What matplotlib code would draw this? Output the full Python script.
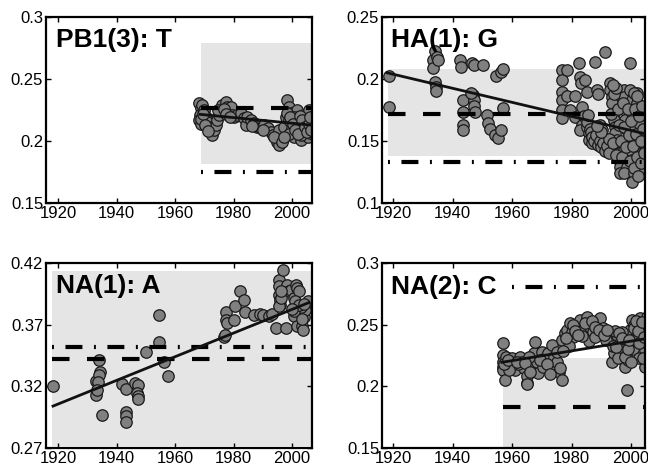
import matplotlib
matplotlib.use("Agg")
import matplotlib.pyplot as plt

# four panels, one per position:nucleotide, frequency through time

# ---- PB1(3): T ----
pb1_years = [1968.2, 1968.7, 1968.6, 1968.2, 1968.7, 1969.3, 1969.9, 1970.5, 1971.0, 1971.6,
             1972.2, 1972.7, 1973.3, 1973.9, 1974.4, 1975.0, 1975.6, 1976.2, 1977.3, 1977.9,
             1978.4, 1979.0, 1979.6, 1980.2, 1981.3, 1982.4, 1983.6, 1984.2, 1984.7, 1985.9,
             1987.0, 1988.1, 1989.3, 1990.4, 1991.6, 1992.7, 1993.3, 1994.4, 1995.0, 1995.6,
             1996.1, 1996.7, 1995.6, 1997.3, 1997.9, 1998.4, 1999.0, 1999.6, 1999.6, 2000.1,
             2000.7, 2001.3, 2001.8, 2001.8, 2002.4, 2003.0, 2003.6, 2003.6, 2004.1, 2004.7,
             2005.3, 2005.3, 2005.8, 2006.2, 2005.8, 1998.4, 1999.0, 2000.7, 2002.4, 2003.0,
             2004.1, 1997.0, 1998.9, 2002.9, 2004.9,
             1968.9, 1969.5, 1970.2, 1971.3, 1974.7, 1976.6, 1977.5, 1978.8, 1986.4, 1990.0,
             1993.9, 1996.4, 1997.2, 1999.3, 2000.4, 2001.0, 2002.0, 2002.7, 2003.3, 2004.4,
             2005.0, 2005.6, 2006.0, 2006.3]
pb1_values = [0.2303, 0.2263, 0.2210, 0.2169, 0.2136, 0.2290, 0.2250, 0.2196, 0.2155, 0.2115,
              0.2075, 0.2048, 0.2088, 0.2128, 0.2169, 0.2210, 0.2250, 0.2290, 0.2317, 0.2276,
              0.2236, 0.2276, 0.2210, 0.2196, 0.2210, 0.2223, 0.2182, 0.2128, 0.2196, 0.2169,
              0.2142, 0.2115, 0.2102, 0.2128, 0.2102, 0.2075, 0.2048, 0.2021, 0.1994, 0.1967,
              0.2007, 0.2061, 0.2088, 0.2115, 0.2196, 0.2330, 0.2276, 0.2223, 0.2155, 0.2102,
              0.2034, 0.2075, 0.2250, 0.2169, 0.2115, 0.2007, 0.2061, 0.2210, 0.2142, 0.2088,
              0.2034, 0.2182, 0.2115, 0.2061, 0.2250, 0.2223, 0.2169, 0.2196, 0.2196, 0.2102,
              0.2088, 0.2020, 0.2060, 0.2050, 0.2150,
              0.2180, 0.2215, 0.2130, 0.2080, 0.2250, 0.2260, 0.2220, 0.2190, 0.2125, 0.2090,
              0.2030, 0.1990, 0.2030, 0.2190, 0.2140, 0.2090, 0.2060, 0.2200, 0.2170, 0.2110,
              0.2075, 0.2140, 0.2190, 0.2085]
pb1_fit = ([1968.5, 2006.3], [0.2215, 0.2129])
pb1_band = (1968.7, 2006.4, 0.1815, 0.279)
pb1_dash, pb1_dashdot = 0.2266, 0.175

# ---- HA(1): G ----
ha_years = [1918.4, 1918.4,
            1933.2, 1933.4, 1934.0, 1934.6, 1935.2, 1934.0, 1934.4, 1934.4,
            1942.3, 1942.9, 1943.3, 1943.3, 1943.3, 1943.3,
            1946.6, 1947.3, 1946.8, 1947.3, 1947.0, 1947.6, 1946.3,
            1950.2, 1951.4, 1951.9, 1952.6, 1954.2, 1955.3, 1956.2,
            1954.4, 1956.2, 1957.0, 1957.0,
            1976.7, 1976.7, 1976.7, 1976.7, 1976.7, 1976.7, 1978.4, 1978.4, 1979.5,
            1981.2, 1981.2, 1982.4, 1982.9, 1983.0, 1983.4, 1983.4, 1982.9,
            1984.5, 1985.1, 1985.1, 1985.7, 1985.7, 1986.8, 1986.8, 1987.9,
            1988.5, 1989.0, 1989.6, 1990.2, 1990.7, 1991.3, 1991.1,
            1993.0, 1993.0, 1993.6, 1993.6, 1994.1, 1994.1, 1994.7, 1994.7, 1995.2, 1995.2,
            1995.8, 1995.8, 1996.3, 1996.3,
            1997.5, 1997.5, 1998.0, 1998.0, 1998.6, 1998.6, 1997.5, 1998.0, 1998.6, 1997.5,
            1999.7, 1999.7, 2000.2, 2000.2, 2000.8, 2000.8, 1999.7, 2000.2, 2000.8, 2000.2,
            2001.9, 2001.9, 2002.5, 2002.5, 2003.0, 2003.0, 2003.6, 2003.6, 2004.2, 2004.8,
            1984.0, 1985.0, 1986.0, 1986.5, 1987.0, 1987.6, 1988.2, 1988.8, 1989.4, 1990.0,
            1990.6, 1991.2, 1991.8, 1992.4, 1992.4, 1989.8, 1988.4, 1985.5,
            1993.3, 1993.9, 1994.4, 1994.9, 1995.5, 1996.0, 1996.6, 1996.9, 1997.2, 1997.7,
            1998.3, 1998.8, 1999.2, 1999.5, 2000.0, 2000.5, 2001.0, 2001.3, 2001.6, 2002.0,
            2002.2, 2002.7, 2003.2, 2003.4, 2003.8, 2004.1, 2004.4, 2001.0, 2002.0, 1995.0,
            1994.0]
ha_values = [0.2024, 0.1771,
             0.2153, 0.2086, 0.2222, 0.2180, 0.2153, 0.1978, 0.1938, 0.1905,
             0.2153, 0.2100, 0.1830, 0.1736, 0.1630, 0.1585,
             0.2126, 0.2112, 0.1870, 0.1830, 0.1780, 0.1736, 0.1890,
             0.2112, 0.1710, 0.1642, 0.1595, 0.1548, 0.1521, 0.1589,
             0.2024, 0.2058, 0.2080, 0.1764,
             0.2072, 0.1992, 0.1897, 0.1830, 0.1750, 0.1682, 0.2072, 0.1860, 0.1750,
             0.1860, 0.1695, 0.2126, 0.2018, 0.1965, 0.1776, 0.1628, 0.1588,
             0.1992, 0.1897, 0.1615, 0.1561, 0.1507, 0.1534, 0.1480, 0.2140,
             0.1910, 0.1880, 0.1628, 0.1588, 0.1534, 0.1494, 0.2220,
             0.1965, 0.1910, 0.1857, 0.1803, 0.1723, 0.1669, 0.1615, 0.1561, 0.1507, 0.1454,
             0.1400, 0.1346, 0.1292, 0.1238,
             0.1910, 0.1857, 0.1750, 0.1669, 0.1588, 0.1507, 0.1427, 0.1373, 0.1292, 0.1238,
             0.2126, 0.1910, 0.1830, 0.1723, 0.1615, 0.1507, 0.1427, 0.1346, 0.1238, 0.1170,
             0.1884, 0.1803, 0.1723, 0.1642, 0.1561, 0.1480, 0.1400, 0.1319, 0.1265, 0.1467,
             0.1700, 0.1650, 0.1600, 0.1570, 0.1530, 0.1500, 0.1550, 0.1470, 0.1500, 0.1450,
             0.1480, 0.1420, 0.1460, 0.1400, 0.1520, 0.1570, 0.1620, 0.1710,
             0.1720, 0.1480, 0.1880, 0.1390, 0.1760, 0.1630, 0.1500, 0.1370, 0.1810, 0.1610,
             0.1450, 0.1760, 0.1550, 0.1340, 0.1660, 0.1460, 0.1280, 0.1760, 0.1560, 0.1370,
             0.1220, 0.1700, 0.1500, 0.1320, 0.1780, 0.1600, 0.1400, 0.1890, 0.1860, 0.1930,
             0.1950]
ha_fit = ([1917.9, 2004.4], [0.205, 0.156])
ha_band = (1918.2, 2004.6, 0.138, 0.208)
ha_dash, ha_dashdot = 0.172, 0.133

# ---- NA(1): A ----
na1_years = [1918.2, 1933.1, 1933.1, 1934.0, 1934.2, 1934.0, 1933.6, 1933.3, 1935.2,
             1941.7, 1943.2, 1943.2, 1943.2, 1943.2,
             1946.3, 1947.4, 1947.1, 1947.2, 1947.2,
             1950.0, 1954.5, 1954.5, 1956.3, 1957.5,
             1976.6, 1976.9, 1977.5, 1977.5, 1977.8,
             1980.0, 1980.6, 1982.3, 1983.4, 1984.0, 1986.9, 1989.0, 1990.0, 1992.0, 1993.0,
             1994.4, 1997.8,
             1995.4, 1996.9, 1995.4, 1995.4, 1995.7, 1995.7, 1995.4,
             1998.4, 1998.9, 1999.5, 2000.6, 2001.3, 2001.8, 2002.4, 2001.1, 2000.5, 2001.6,
             2003.3, 2003.6, 2004.0, 2004.4, 2005.3, 2002.9, 2000.6, 2002.2, 2003.5, 2004.2,
             1999.8, 1996.1, 1996.1]
na1_values = [0.320, 0.324, 0.313, 0.341, 0.332, 0.329, 0.3237, 0.317, 0.297,
              0.322, 0.318, 0.299, 0.296, 0.291,
              0.323, 0.321, 0.315, 0.312, 0.310,
              0.348, 0.3775, 0.356, 0.340, 0.328,
              0.3597, 0.362, 0.380, 0.374, 0.371,
              0.374, 0.385, 0.397, 0.390, 0.380, 0.378, 0.379, 0.378, 0.377, 0.379,
              0.367, 0.367,
              0.4065, 0.414, 0.401, 0.394, 0.390, 0.386, 0.385,
              0.402, 0.397, 0.398, 0.392, 0.402, 0.400, 0.397, 0.389, 0.377, 0.369,
              0.369, 0.3657, 0.376, 0.382, 0.3895, 0.384, 0.381, 0.386, 0.375, 0.387,
              0.383, 0.392, 0.397]
na1_fit = ([1918.3, 2005.8], [0.304, 0.388])
na1_band = (1918.0, 2006.4, 0.272, 0.4135)
na1_dash, na1_dashdot = 0.3424, 0.352

# ---- NA(2): C ----
na2_years = [1956.8, 1956.8, 1956.8, 1956.9, 1957.0, 1957.6, 1957.8, 1958.2,
             1959.9, 1961.0, 1962.7, 1963.2, 1963.8, 1964.9, 1964.9, 1962.0, 1965.1,
             1966.6, 1967.2, 1967.7, 1968.3, 1968.8,
             1969.9, 1971.1, 1972.2, 1973.3, 1973.9, 1974.4, 1975.0, 1975.6, 1976.1, 1976.7,
             1976.7, 1977.8, 1978.4, 1979.5, 1980.1, 1980.6,
             1981.7, 1982.9, 1984.0, 1985.1, 1986.2, 1987.3, 1988.5, 1989.6, 1990.1, 1990.7,
             1992.4, 1993.0, 1993.5, 1994.1, 1995.2, 1996.3, 1997.4, 1998.0, 1998.6, 1999.1,
             1999.7, 2000.2, 2000.8, 2001.9, 2003.0, 2003.6, 2004.1, 2004.7, 2005.3, 2004.7,
             1985.7, 1988.0, 1991.5, 1996.8, 1998.3, 2000.5, 2002.5, 2001.4, 2003.3, 1995.7,
             1994.6, 1983.4, 1979.0, 1970.5, 1965.5, 1960.5, 1958.8,
             1957.3, 1958.5, 1961.5, 1964.3, 1966.0, 1969.3, 1971.7, 1972.8, 1974.9, 1977.2,
             1978.0, 1980.3, 1981.1, 1982.2, 1984.6, 1986.8, 1987.8, 1989.1, 1991.0, 1992.0,
             1993.8, 1995.0, 1996.0, 1997.0, 1997.8, 1998.9, 1999.4, 2000.0, 2001.0, 2001.7,
             2002.2, 2002.8, 2003.8, 2004.3, 2004.0]
na2_values = [0.2354, 0.2255, 0.2200, 0.2160, 0.2133, 0.2050, 0.2241, 0.2187,
              0.2228, 0.2133, 0.2240, 0.2200, 0.2145, 0.2025, 0.2080, 0.2180, 0.2016,
              0.2170, 0.2268, 0.2360, 0.2200, 0.2106,
              0.2280, 0.2228, 0.2268, 0.2335, 0.2241, 0.2160, 0.2200, 0.2120, 0.2147, 0.2052,
              0.2376, 0.2430, 0.2457, 0.2510, 0.2444, 0.2403,
              0.2498, 0.2538, 0.2457, 0.2565, 0.2484, 0.2444, 0.2511, 0.2552, 0.2430, 0.2470,
              0.2430, 0.2376, 0.2200, 0.2268, 0.2417, 0.2349, 0.2295, 0.2160, 0.1971, 0.2214,
              0.2457, 0.2538, 0.2498, 0.2430, 0.2552, 0.2362, 0.2484, 0.2295, 0.2565, 0.2160,
              0.2365, 0.2400, 0.2380, 0.2440, 0.2250, 0.2300, 0.2230, 0.2380, 0.2440, 0.2230,
              0.2450, 0.2410, 0.2330, 0.2160, 0.2240, 0.2190, 0.2130,
              0.2180, 0.2215, 0.2200, 0.2190, 0.2120, 0.2210, 0.2180, 0.2100, 0.2280, 0.2290,
              0.2390, 0.2500, 0.2450, 0.2420, 0.2510, 0.2530, 0.2480, 0.2460, 0.2420, 0.2460,
              0.2330, 0.2320, 0.2430, 0.2390, 0.2240, 0.2300, 0.2380, 0.2200, 0.2470, 0.2530,
              0.2450, 0.2350, 0.2520, 0.2400, 0.2230]
na2_fit = ([1956.5, 2004.6], [0.2195, 0.2385])
na2_band = (1956.9, 2004.6, 0.1400, 0.2232)
na2_dash, na2_dashdot = 0.1835, 0.2808

plt.rcParams['font.family'] = ['Liberation Sans', 'DejaVu Sans']
plt.rcParams['lines.scale_dashes'] = False

DASHED = (0, (12.6, 12.6))
DASHDOT = (0, (1.4, 8.3, 12.2, 8.3))


def draw_panel(ax, years, values, fit, band, dash_y, dashdot_y, label,
               xlim, ylim, yticks, yticklabels, dashdot_start=None, label_y=0.839):
    '''Shaded band, scatter of frequencies, fitted line and two reference levels'''
    x0, x1, y0, y1 = band
    ax.fill_between([x0, x1], y0, y1, color='#e5e5e5', lw=0, zorder=0)
    ax.scatter(years, values, s=68, c='#808080', edgecolors='#1a1a1a',
               linewidths=0.9, zorder=2)
    ax.plot([x0, x1], [dash_y, dash_y], color='k', lw=3, ls=DASHED,
            dash_capstyle='butt', zorder=3)
    start = x0 if dashdot_start is None else dashdot_start
    ax.plot([start, x1], [dashdot_y, dashdot_y], color='k', lw=3, ls=DASHDOT,
            dash_capstyle='butt', zorder=3)
    ax.plot(fit[0], fit[1], color='#111111', lw=2, zorder=4)

    ax.text(0.036, label_y, label, transform=ax.transAxes, fontsize=19,
            fontweight='bold', va='baseline', ha='left', zorder=5)

    ax.set_xlim(xlim)
    ax.set_ylim(ylim)
    ax.set_xticks([1920, 1940, 1960, 1980, 2000])
    ax.set_yticks(yticks)
    ax.set_yticklabels(yticklabels)
    ax.tick_params(direction='in', top=True, right=True, length=3.5, width=1,
                   labelsize=12, pad=2)
    for sp in ax.spines.values():
        sp.set_linewidth(1.6)


fig = plt.figure(figsize=(6.48, 4.72), dpi=100)

# right column is a bit narrower in years and runs to the edge of the figure
ax_tl = fig.add_axes([0.0710, 0.5699, 0.4105, 0.3941])
ax_tr = fig.add_axes([0.5895, 0.5699, 0.4051, 0.3941])
ax_bl = fig.add_axes([0.0710, 0.0508, 0.4105, 0.3919])
ax_br = fig.add_axes([0.5895, 0.0508, 0.4051, 0.3919])

left_x = (1915.9, 2006.8)
right_x = (1916.2, 2004.5)

draw_panel(ax_tl, pb1_years, pb1_values, pb1_fit, pb1_band, pb1_dash, pb1_dashdot,
           'PB1(3): T', left_x, (0.15, 0.3), [0.15, 0.2, 0.25, 0.3],
           ['0.15', '0.2', '0.25', '0.3'])
draw_panel(ax_tr, ha_years, ha_values, ha_fit, ha_band, ha_dash, ha_dashdot,
           'HA(1): G', right_x, (0.1, 0.25), [0.1, 0.15, 0.2, 0.25],
           ['0.1', '0.15', '0.2', '0.25'])
draw_panel(ax_bl, na1_years, na1_values, na1_fit, na1_band, na1_dash, na1_dashdot,
           'NA(1): A', left_x, (0.27, 0.42), [0.27, 0.32, 0.37, 0.42],
           ['0.27', '0.32', '0.37', '0.42'])
draw_panel(ax_br, na2_years, na2_values, na2_fit, na2_band, na2_dash, na2_dashdot,
           'NA(2): C', right_x, (0.15, 0.3), [0.15, 0.2, 0.25, 0.3],
           ['0.15', '0.2', '0.25', '0.3'], dashdot_start=1960.0, label_y=0.83)

fig.savefig('out.png', dpi=100)
